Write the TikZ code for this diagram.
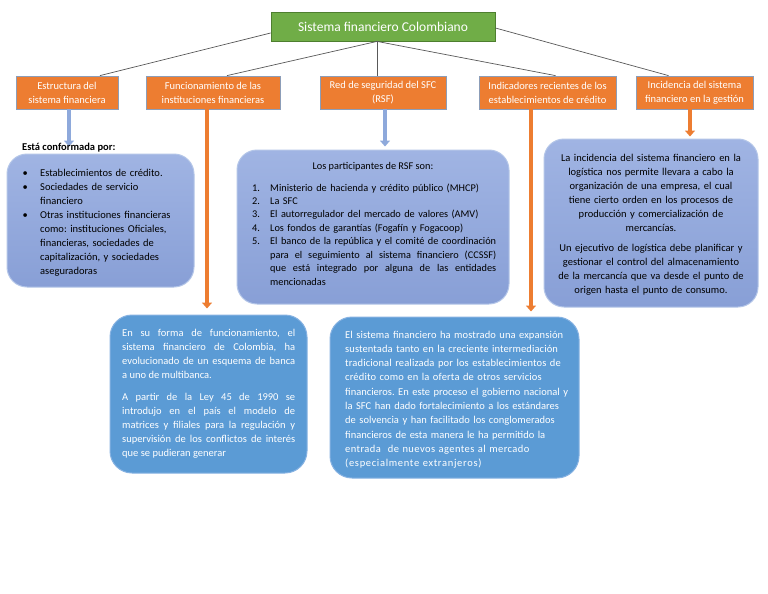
\documentclass[tikz,border=0pt]{standalone}
\usepackage{fontspec}
\setmainfont{Carlito}
\usetikzlibrary{arrows.meta,calc}
\definecolor{greenFill}{HTML}{70AD47}
\definecolor{greenDraw}{HTML}{4E7F2F}
\definecolor{orangeFill}{HTML}{ED7D31}
\definecolor{catDraw}{HTML}{8C9DB8}
\definecolor{lavTop}{HTML}{A0B4E3}
\definecolor{lavBot}{HTML}{889FD6}
\definecolor{lavDraw}{HTML}{B4C6E8}
\definecolor{dkFill}{HTML}{5B9BD5}
\definecolor{dkDraw}{HTML}{86B2E2}
\definecolor{arrBlue}{HTML}{8EA9DB}
\definecolor{lineGray}{HTML}{595959}
\newcommand{\lsp}[2]{{\addfontfeature{LetterSpace=#1}#2}}
\begin{document}
\frenchspacing
\begin{tikzpicture}[x=1pt,y=-1pt,
  conn/.style={draw=lineGray, line width=0.7pt},
  topbox/.style={draw=greenDraw, fill=greenFill, line width=0.8pt, text=white, inner sep=0pt,
    minimum width=224pt, minimum height=29pt, font=\fontsize{13.5}{16}\selectfont},
  catbox/.style={draw=catDraw, fill=orangeFill, line width=0.8pt, text=white, align=center,
    inner sep=0pt, minimum height=33pt, font=\fontsize{10.5}{14}\selectfont},
  lavbox/.style={draw=lavDraw, line width=1pt, top color=lavTop, bottom color=lavBot,
    rounded corners=20pt, inner sep=0pt},
  dkbox/.style={draw=dkDraw, line width=1pt, fill=dkFill, rounded corners=22pt, inner sep=0pt},
  txt/.style={inner sep=0pt, anchor=base west, font=\fontsize{10.5}{14.1}\selectfont},
  barrow/.style={draw=arrBlue, line width=4.5pt, -{Triangle[width=10pt,length=6pt]}},
  oarrow/.style={draw=orangeFill, line width=4.5pt, -{Triangle[width=10pt,length=6pt]}},
]
\fill[white] (0,0) rectangle (768,594);
\useasboundingbox (0,0) rectangle (768,594);

% top node
\node[topbox] (top) at (383,26.5) {Sistema financiero Colombiano};

% category boxes
\node[catbox, minimum width=102pt] (b1) at (67,92.5) {Estructura del\\sistema financiera};
\node[catbox, minimum width=134pt] (b2) at (213,92.5) {Funcionamiento de las\\instituciones financieras};
\node[catbox, minimum width=126pt] (b3) at (383,92.5) {Red de seguridad del SFC\\(RSF)};
\node[catbox, minimum width=137pt] (b4) at (547.5,92.5) {Indicadores recientes de los\\establecimientos de crédito};
\node[catbox, minimum width=117pt] (b5) at (694.5,92.5) {Incidencia del sistema\\financiero en la gestión};

% connectors from top
\draw[conn] ([yshift=-6.5pt]top.west) -- ([xshift=33pt]b1.north);
\draw[conn] ([xshift=-6pt]top.south) -- ([xshift=14pt]b2.north);
\draw[conn] ([xshift=-6pt]top.south) -- ([xshift=-6pt]b3.north);
\draw[conn] ([xshift=-6pt]top.south) -- ([xshift=8pt]b4.north);
\draw[conn] ([yshift=-1.5pt]top.east) -- ([xshift=-26pt]b5.north);

% content boxes
\node[lavbox, minimum width=187pt, minimum height=133pt] (l1) at (100.5,220.5) {};
\node[lavbox, minimum width=272pt, minimum height=154pt] (l3) at (373,227) {};
\node[lavbox, minimum width=214pt, minimum height=168pt] (l5) at (651,223) {};
\node[dkbox, minimum width=197pt, minimum height=158pt] (d2) at (208.5,394) {};
\node[dkbox, minimum width=249pt, minimum height=161pt] (d4) at (454.5,397.5) {};

% arrows
\draw[barrow, shorten >=7pt] ($(b1.south)+(2,0)$) -- ($(b1.south|-l1.north)+(2,0)$);
\draw[barrow, shorten >=3pt] ($(b3.south)+(2,0)$) -- ($(b3.south|-l3.north)+(2,0)$);
\draw[oarrow, shorten >=2pt] ($(b5.south)+(-4.5,0)$) -- ($(b5.south|-l5.north)+(-4.5,0)$);
\draw[oarrow, shorten >=6pt] ($(b2.south)+(-6,0)$) -- ($(b2.south|-d2.north)+(-6,0)$);
\draw[oarrow, shorten >=5pt] ($(b4.south)+(-16.5,0)$) -- ($(b4.south|-d4.north)+(-16.5,0)$);

% L1 text
\node[txt, font=\bfseries\fontsize{10.5}{14}\selectfont] (l1h) at (22,150.5) {Está conformada por:};
\node[txt, text width=168pt, font=\fontsize{10.5}{14}\selectfont] (l1t) at (22.5,176) {\parindent=0pt\parskip=0pt\raggedright
\hangindent=17.5pt\hangafter=1\makebox[17.5pt][l]{\textbullet}Establecimientos de crédito.\par
\hangindent=17.5pt\hangafter=1\makebox[17.5pt][l]{\textbullet}Sociedades de servicio\newline financiero\par
\hangindent=17.5pt\hangafter=1\makebox[17.5pt][l]{\textbullet}Otras instituciones financieras\newline como: instituciones Oficiales,\newline financieras, sociedades de\newline capitalización, y sociedades\newline aseguradoras\par};

% L3 text
\node[txt, anchor=base, font=\fontsize{10.3}{13.4}\selectfont] (l3h) at (373,169) {Los participantes de RSF son:};
\node[txt, text width=250pt, align=left, font=\fontsize{10.3}{13.45}\selectfont] (l3t) at (252,191) {%
\makebox[18pt][l]{1.}Ministerio de hacienda y crédito público (MHCP)\\
\makebox[18pt][l]{2.}La SFC\\
\makebox[18pt][l]{3.}El autorregulador del mercado de valores (AMV)\\
\makebox[18pt][l]{4.}Los fondos de garantías (Fogafín y Fogacoop)\\
\makebox[18pt][l]{5.}\parbox[t]{226pt}{\spaceskip=0.23em plus 0.6em minus 0.12em El banco de la república y el comité de coordinación\linebreak para el seguimiento al sistema financiero (CCSSF)\linebreak que está integrado por alguna de las entidades\linebreak mencionadas}};

% L5 text
\node[txt, anchor=base, text width=205pt, align=center] (l5t) at (651,161) {La incidencia del sistema financiero en la\\logística nos permite llevara a cabo la\\organización de una empresa, el cual\\tiene cierto orden en los procesos de\\producción y comercialización de\\mercancías.\\[6pt]Un ejecutivo de logística debe planificar y\\gestionar el control del almacenamiento\\de la mercancía que va desde el punto de\\origen hasta el punto de consumo.};

% D2 text
\node[txt, text=white, text width=173pt, align=justify] (d2t) at (122,336) {En su forma de funcionamiento, el\linebreak sistema financiero de Colombia, ha\linebreak evolucionado de un esquema de banca\linebreak a uno de multibanca.\par\vspace{8pt}A partir de la Ley 45 de 1990 se\linebreak introdujo en el país el modelo de\linebreak matrices y filiales para la regulación y\linebreak supervisión de los conflictos de interés\linebreak que se pudieran generar};

% D4 text
\node[txt, text=white, text width=232pt, align=left, font=\fontsize{10.5}{14.3}\selectfont] (d4t) at (345,338) {%
\lsp{1}{El sistema financiero ha mostrado una expansión}\\
\lsp{1}{sustentada tanto en la creciente intermediación}\\
\lsp{1.3}{tradicional realizada por los establecimientos de}\\
\lsp{1.5}{crédito como en la oferta de otros servicios}\\
financieros. En este proceso el gobierno nacional y\\
la SFC han dado fortalecimiento a los estándares\\
\lsp{0.3}{de solvencia y han facilitado los conglomerados}\\
financieros de esta manera le ha permitido la\\
\lsp{4}{entrada\ \ de nuevos agentes al mercado}\\
\lsp{6.5}{(especialmente extranjeros)}};
\end{tikzpicture}
\end{document}
